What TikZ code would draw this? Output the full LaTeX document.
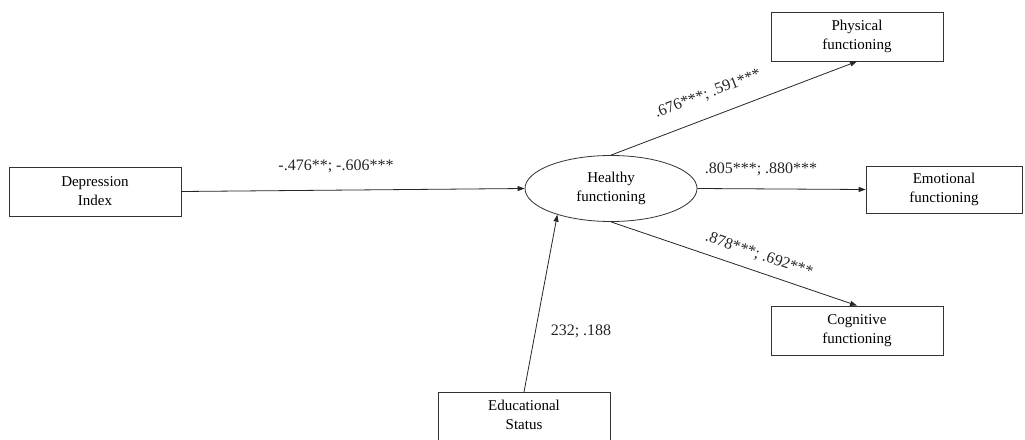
\documentclass[tikz,border=0pt]{standalone}
\usepackage{fontspec}
\setmainfont{Liberation Serif}
\usetikzlibrary{shapes.geometric,arrows.meta}
\begin{document}
\begin{tikzpicture}[x=1pt,y=-1pt,
  boxnode/.style={draw=black!80,line width=0.8pt,rectangle,minimum width=172pt,minimum height=49pt,
    align=center,font=\fontsize{15}{19}\selectfont,inner sep=0pt},
  ellnode/.style={draw=black!80,line width=0.8pt,ellipse,minimum width=172pt,minimum height=66pt,
    align=center,font=\fontsize{15}{19}\selectfont,inner sep=0pt},
  arr/.style={draw=black!85,line width=0.8pt,-{Triangle[length=7pt,width=5pt]}},
  lbl/.style={font=\fontsize{16}{19}\selectfont,text=black!85,inner sep=0pt}]
\useasboundingbox (0,0) rectangle (1025,439);
\fill[white] (0,0) rectangle (1025,439);
\node[boxnode] (dep) at (95,191.5) {Depression\\Index};
\node[ellnode] (hf) at (611,188.5) {Healthy\\functioning};
\node[boxnode] (phys) at (857,36.5) {Physical\\functioning};
\node[boxnode,minimum width=156pt,minimum height=47pt] (emo) at (944,189.5) {Emotional\\functioning};
\node[boxnode] (cog) at (857,330.5) {Cognitive\\functioning};
\begin{scope}
\clip (0,0) rectangle (1025,439);
\node[boxnode,text height=40pt,text depth=0pt,anchor=north] (edu) at (524,392) {};
\end{scope}
\node[font=\fontsize{15}{19}\selectfont,align=center,anchor=north] (edutext) at (524,397) {Educational\\Status};
\draw[arr] (dep.east) -- (hf.west);
\draw[arr] (hf.north) -- (phys.south);
\draw[arr] (hf.east) -- (emo.west);
\draw[arr] (hf.south) -- (cog.north);
\draw[arr] (edu.north) -- (hf.206);
\node[lbl] (l1) at (336,166) {-.476**; -.606***};
\node[lbl,rotate=21] (l2) at (708,94) {.676***; .591***};
\node[lbl] (l3) at (761,169) {.805***; .880***};
\node[lbl,rotate=-19] (l4) at (759,255) {.878***; .692***};
\node[lbl] (l5) at (581,331) {232; .188};
\end{tikzpicture}
\end{document}
